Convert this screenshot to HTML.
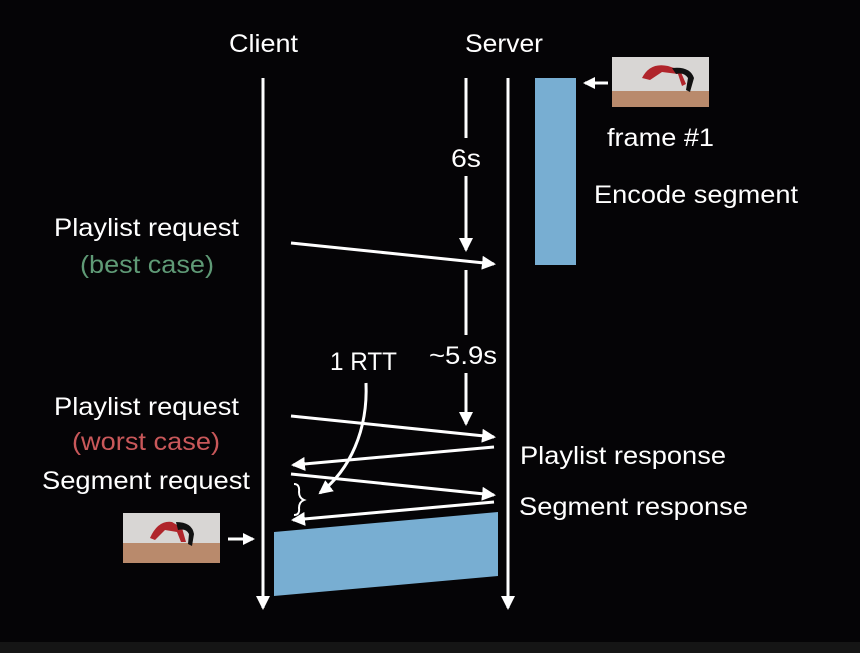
<!DOCTYPE html>
<html><head><meta charset="utf-8"><style>
html,body{margin:0;padding:0;background:#050406;}
svg{display:block}
text{font-family:"Liberation Sans",sans-serif;fill:#fff;font-size:25px}
</style></head><body>
<svg width="860" height="653" viewBox="0 0 860 653" xmlns="http://www.w3.org/2000/svg">
<defs>
<marker id="a" markerWidth="12" markerHeight="12" refX="10" refY="6" orient="auto" markerUnits="userSpaceOnUse"><path d="M0,0 L12,6 L0,12 Z" fill="#fff"/></marker>
<marker id="b" markerWidth="14" markerHeight="14" refX="12" refY="7" orient="auto" markerUnits="userSpaceOnUse"><path d="M0,0 L14,7 L0,14 Z" fill="#fff"/></marker>
</defs>
<rect width="860" height="653" fill="#050406"/>
<rect y="642" width="860" height="11" fill="#151515"/>
<text x="229" y="52" textLength="69" lengthAdjust="spacingAndGlyphs">Client</text>
<text x="465" y="52" textLength="78" lengthAdjust="spacingAndGlyphs">Server</text>
<g stroke="#fff" stroke-width="3" fill="none">
<line x1="263" y1="78" x2="263" y2="608" marker-end="url(#b)"/>
<line x1="508" y1="78" x2="508" y2="608" marker-end="url(#b)"/>
<line x1="466" y1="78" x2="466" y2="138"/>
<line x1="466" y1="176" x2="466" y2="250" marker-end="url(#b)"/>
<line x1="466" y1="270" x2="466" y2="335"/>
<line x1="466" y1="373" x2="466" y2="424" marker-end="url(#b)"/>
<line x1="608" y1="83" x2="585" y2="83" marker-end="url(#a)"/>
<line x1="228" y1="539" x2="253" y2="539" marker-end="url(#a)"/>
<line x1="291" y1="243" x2="494" y2="264" marker-end="url(#b)"/>
<line x1="291" y1="416" x2="494" y2="437" marker-end="url(#b)"/>
<line x1="494" y1="447" x2="293" y2="465" marker-end="url(#b)"/>
<line x1="291" y1="474" x2="494" y2="495" marker-end="url(#b)"/>
<line x1="494" y1="502" x2="293" y2="520" marker-end="url(#b)"/>
<path d="M366,383 C368,430 350,470 320,493" marker-end="url(#b)"/>
</g>
<path d="M294,484 Q300,484 299,492 Q299,498 304,500 Q299,502 299,508 Q300,515 294,515" stroke="#fff" stroke-width="2" fill="none"/>
<rect x="535" y="78" width="41" height="187" fill="#78aed2"/>
<polygon points="274,532 498,512 498,576 274,596" fill="#78aed2"/>
<rect x="612" y="57" width="97" height="34" fill="#d8d6d4"/>
<rect x="612" y="91" width="97" height="16" fill="#b98a6c"/>
<path d="M642,78 Q650,62 668,66 L680,70 L686,84 L682,86 L678,74 L662,72 L650,80 Z" fill="#b0252b"/>
<path d="M672,68 Q690,66 694,78 L690,92 L686,90 L688,78 Q684,72 676,74 Z" fill="#111"/>
<rect x="123" y="513" width="97" height="30" fill="#d8d6d4"/>
<rect x="123" y="543" width="97" height="20" fill="#b98a6c"/>
<path d="M150,538 Q158,520 172,522 L182,528 L186,542 L181,542 L177,532 L165,530 L155,540 Z" fill="#b0252b"/>
<path d="M176,522 Q192,522 194,534 L192,546 L188,544 L189,534 Q186,528 178,530 Z" fill="#111"/>
<text x="451" y="167" textLength="30" lengthAdjust="spacingAndGlyphs">6s</text>
<text x="429" y="364" textLength="68" lengthAdjust="spacingAndGlyphs">~5.9s</text>
<text x="330" y="370" textLength="67" lengthAdjust="spacingAndGlyphs">1 RTT</text>
<text x="607" y="146" textLength="107" lengthAdjust="spacingAndGlyphs">frame #1</text>
<text x="594" y="203" textLength="204" lengthAdjust="spacingAndGlyphs">Encode segment</text>
<text x="54" y="236" textLength="185" lengthAdjust="spacingAndGlyphs">Playlist request</text>
<text x="80" y="273" textLength="134" lengthAdjust="spacingAndGlyphs" style="fill:#5f9a76">(best case)</text>
<text x="54" y="415" textLength="185" lengthAdjust="spacingAndGlyphs">Playlist request</text>
<text x="72" y="450" textLength="148" lengthAdjust="spacingAndGlyphs" style="fill:#c9585a">(worst case)</text>
<text x="42" y="489" textLength="208" lengthAdjust="spacingAndGlyphs">Segment request</text>
<text x="520" y="464" textLength="206" lengthAdjust="spacingAndGlyphs">Playlist response</text>
<text x="519" y="515" textLength="229" lengthAdjust="spacingAndGlyphs">Segment response</text>
</svg>
</body></html>
